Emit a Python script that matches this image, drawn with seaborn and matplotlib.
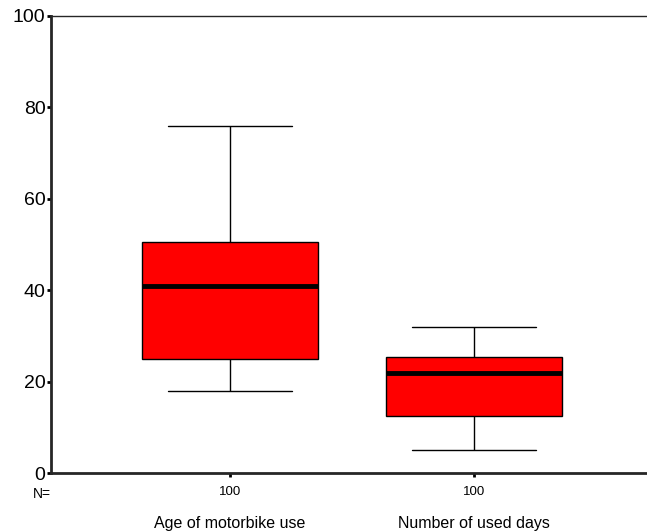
import pandas as pd
import matplotlib
matplotlib.use("Agg")
import matplotlib.pyplot as plt
import seaborn as sns
import numpy as np

# five-number summaries (min, Q1, median, Q3, max)
categories = ['Age of motorbike use', 'Number of used days']
age_summary = [18, 25, 41, 50.5, 76]
days_summary = [5, 12.5, 22, 25.5, 32]
n_labels = ['100', '100']
y_ticks = [0, 20, 40, 60, 80, 100]

df = pd.DataFrame({
    'variable': [categories[0]] * len(age_summary) + [categories[1]] * len(days_summary),
    'value': age_summary + days_summary,
})

sns.set_style('white')
plt.rcParams['font.family'] = ['Liberation Sans', 'DejaVu Sans']
plt.rcParams['text.color'] = 'black'
plt.rcParams['xtick.color'] = 'black'
plt.rcParams['ytick.color'] = 'black'

fig = plt.figure(figsize=(6.47, 5.31), dpi=100)
ax = fig.add_axes([0.079, 0.109, 0.921, 0.861])

sns.boxplot(data=df, x='variable', y='value', order=categories, color='#ff0000',
            saturation=1, width=0.72, whis=np.inf, linecolor='black', linewidth=1,
            medianprops=dict(color='black', linewidth=3.5),
            capwidths=0.51, ax=ax)

ax.set_ylim(0, 100)
ax.set_xlim(-0.734, 1.709)
ax.set_yticks(y_ticks)
ax.set_yticklabels([str(t) for t in y_ticks], fontsize=14)
ax.set_xticks([0, 1])
ax.set_xticklabels(n_labels, fontsize=9.5)
ax.set_xlabel('')
ax.set_ylabel('')

ax.spines['right'].set_visible(False)
ax.spines['top'].set_linewidth(1)
ax.spines['left'].set_linewidth(2)
ax.spines['bottom'].set_linewidth(2)
ax.tick_params(axis='both', direction='out', length=3, width=2, color='black',
               left=True, bottom=True, labelcolor='black')
ax.tick_params(axis='y', pad=1)
ax.tick_params(axis='x', pad=6)

ax.text(0.0, -0.03, 'N=', transform=ax.transAxes, fontsize=10,
        ha='right', va='top')
for i, cat in enumerate(categories):
    ax.text(i, -0.094, cat, transform=ax.get_xaxis_transform(), fontsize=11.5,
            ha='center', va='top')

fig.savefig('out.png', dpi=100)
